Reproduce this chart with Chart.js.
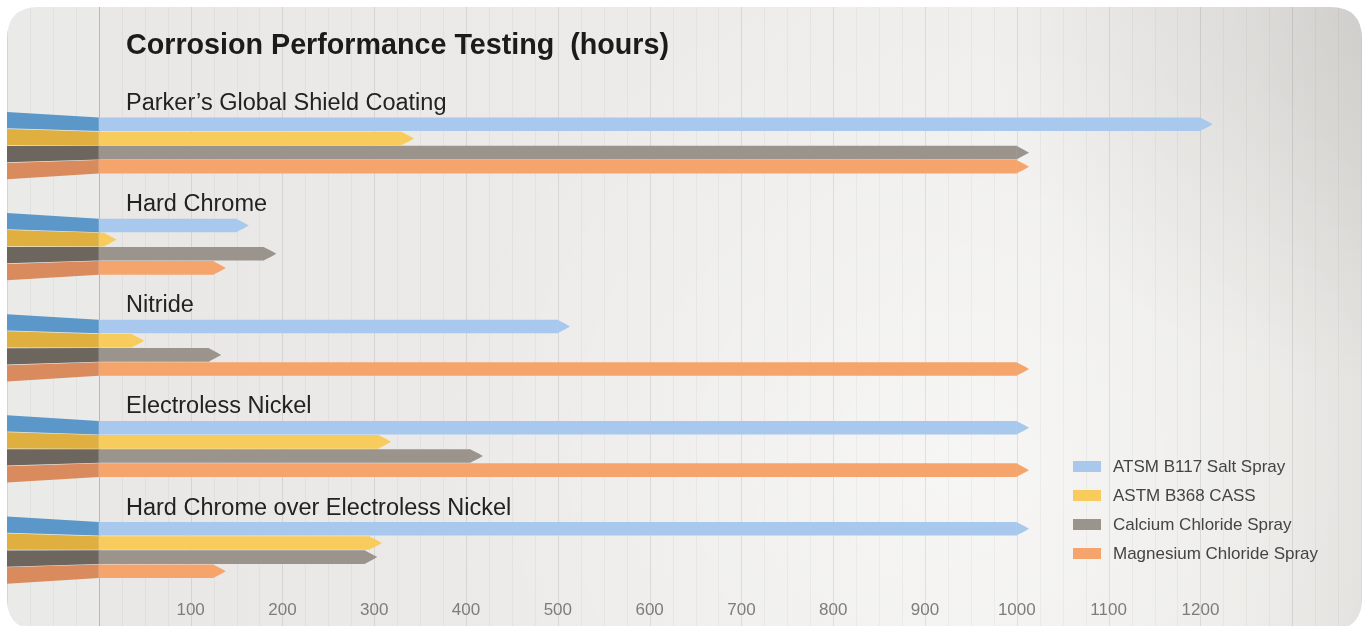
<!DOCTYPE html>
<html><head><meta charset="utf-8">
<script src="https://cdn.jsdelivr.net/npm/chart.js@4.4.1/dist/chart.umd.min.js"></script>
<style>html,body{margin:0;padding:0;background:#fff;overflow:hidden}#wrap{width:1369px;height:626px;position:relative}</style>
</head><body><div id="wrap"><canvas id="c" width="1369" height="626"></canvas></div>
<script>
const titleText = "Corrosion Performance Testing  (hours)";
const categories = ["Parker\u2019s Global Shield Coating", "Hard Chrome", "Nitride", "Electroless Nickel", "Hard Chrome over Electroless Nickel"];
const seriesNames = ["ATSM B117 Salt Spray", "ASTM B368 CASS", "Calcium Chloride Spray", "Magnesium Chloride Spray"];
const saltSpray = [1200, 150, 500, 1000, 1000];
const cass = [330, 6, 36, 305, 295];
const calciumChloride = [1000, 180, 120, 405, 290];
const magnesiumChloride = [1000, 125, 1000, 1000, 125];
const tickLabels = [100, 200, 300, 400, 500, 600, 700, 800, 900, 1000, 1100, 1200];

const seriesData = [saltSpray, cass, calciumChloride, magnesiumChloride];
const lightColors = ['#a8c8ee', '#f8cc5c', '#9b948c', '#f5a56b'];
const darkColors = ['#5b97c8', '#dfb03f', '#6c665f', '#d98b5d'];

const FONT = '"Liberation Sans", Arial, Helvetica, sans-serif';

function roundRectPath(ctx, x, y, w, h, r) {
  ctx.beginPath();
  ctx.moveTo(x + r, y);
  ctx.lineTo(x + w - r, y);
  ctx.quadraticCurveTo(x + w, y, x + w, y + r);
  ctx.lineTo(x + w, y + h - r);
  ctx.quadraticCurveTo(x + w, y + h, x + w - r, y + h);
  ctx.lineTo(x + r, y + h);
  ctx.quadraticCurveTo(x, y + h, x, y + h - r);
  ctx.lineTo(x, y + r);
  ctx.quadraticCurveTo(x, y, x + r, y);
  ctx.closePath();
}

const deco = {
  id: 'deco',
  beforeDraw(chart) {
    const ctx = chart.ctx, xs = chart.scales.x;
    const L = 7, T = 7, R = 1362, B = 630;
    ctx.save();
    ctx.fillStyle = '#ffffff';
    ctx.fillRect(0, 0, chart.width, chart.height);
    roundRectPath(ctx, L, T, R - L, B - T, 32);
    const g = ctx.createLinearGradient(L, 0, R, 0);
    g.addColorStop(0, '#e8e7e5');
    g.addColorStop(0.45, '#ecebe9');
    g.addColorStop(0.75, '#efeeec');
    g.addColorStop(0.92, '#eae9e6');
    g.addColorStop(1, '#e2e0dc');
    ctx.fillStyle = g;
    ctx.fill();
    ctx.clip();
    const rg = ctx.createRadialGradient(950, 470, 20, 950, 470, 520);
    rg.addColorStop(0, 'rgba(255,255,255,0.45)');
    rg.addColorStop(1, 'rgba(255,255,255,0)');
    ctx.fillStyle = rg;
    ctx.fillRect(L, T, R - L, B - T);
    const cg = ctx.createRadialGradient(R, T, 10, R, T, 380);
    cg.addColorStop(0, 'rgba(0,0,0,0.08)');
    cg.addColorStop(1, 'rgba(0,0,0,0)');
    ctx.fillStyle = cg;
    ctx.fillRect(L, T, R - L, B - T);
    const x0 = xs.getPixelForValue(0);
    ctx.fillStyle = 'rgba(255,255,255,0.12)';
    ctx.fillRect(L, T, x0 - L, B - T);
    for (let v = -100; v <= 1375; v += 25) {
      const px = Math.round(xs.getPixelForValue(v)) + 0.5;
      if (px < L || px > R) continue;
      const major = v % 100 === 0;
      ctx.strokeStyle = v === 0 ? 'rgba(0,0,0,0.20)' : (major ? 'rgba(0,0,0,0.085)' : 'rgba(0,0,0,0.035)');
      ctx.lineWidth = 1;
      ctx.beginPath();
      ctx.moveTo(px, T);
      ctx.lineTo(px, B);
      ctx.stroke();
    }
    ctx.restore();
  },
  afterDatasetsDraw(chart) {
    const ctx = chart.ctx, xs = chart.scales.x, ys = chart.scales.y;
    const left = chart.chartArea.left;
    const x0 = xs.getPixelForValue(0);
    ctx.save();
    chart.data.datasets.forEach((ds, di) => {
      const meta = chart.getDatasetMeta(di);
      meta.data.forEach((el, i) => {
        const p = el.getProps(['x', 'y', 'height'], true);
        const top = p.y - p.height / 2, bot = p.y + p.height / 2;
        const c = ys.getPixelForValue(i);
        const k = 1.2;
        ctx.fillStyle = darkColors[di];
        ctx.beginPath();
        ctx.moveTo(left, c + (top - c) * k);
        ctx.lineTo(x0, top);
        ctx.lineTo(x0, bot);
        ctx.lineTo(left, c + (bot - c) * k);
        ctx.closePath();
        ctx.fill();
        ctx.fillStyle = lightColors[di];
        ctx.beginPath();
        ctx.moveTo(p.x - 0.5, top);
        ctx.lineTo(p.x + p.height * 0.55, top + p.height * 0.3);
        ctx.lineTo(p.x + p.height * 0.9, p.y);
        ctx.lineTo(p.x + p.height * 0.55, bot - p.height * 0.3);
        ctx.lineTo(p.x - 0.5, bot);
        ctx.closePath();
        ctx.fill();
      });
    });
    ctx.restore();
  },
  afterDraw(chart) {
    const ctx = chart.ctx, ys = chart.scales.y;
    ctx.save();
    ctx.textBaseline = 'middle';
    ctx.textAlign = 'left';
    ctx.fillStyle = '#1b1b1b';
    ctx.font = 'bold 28.7px ' + FONT;
    ctx.fillText(titleText, 126, 46);
    ctx.fillStyle = '#222222';
    ctx.font = '23.5px ' + FONT;
    categories.forEach((lab, i) => {
      ctx.fillText(lab, 126, ys.getPixelForValue(i) - 42);
    });
    ctx.font = '17px ' + FONT;
    chart.data.datasets.forEach((ds, di) => {
      const y = 466 + di * 29;
      ctx.fillStyle = ds.backgroundColor;
      ctx.fillRect(1073, y - 5, 28, 11);
      ctx.fillStyle = '#444444';
      ctx.fillText(ds.label, 1113, y + 1);
    });
    ctx.restore();
  }
};

new Chart(document.getElementById('c'), {
  type: 'bar',
  data: {
    labels: categories,
    datasets: seriesNames.map((n, i) => ({
      label: n,
      data: seriesData[i],
      backgroundColor: lightColors[i],
      borderWidth: 0,
      barPercentage: 0.96,
      categoryPercentage: 0.56
    }))
  },
  options: {
    indexAxis: 'y',
    responsive: false,
    animation: false,
    devicePixelRatio: 1,
    layout: { padding: { left: 7, right: 7, top: 95, bottom: 5 } },
    plugins: { legend: { display: false }, tooltip: { enabled: false }, title: { display: false } },
    scales: {
      x: {
        min: -100, max: 1376,
        grid: { display: false, drawTicks: false },
        border: { display: false },
        afterBuildTicks: s => { s.ticks = tickLabels.map(v => ({ value: v })); },
        ticks: { autoSkip: false, maxRotation: 0, padding: 0, color: '#7d7d7d', font: { family: FONT, size: 17 }, callback: v => String(v) }
      },
      y: { display: false }
    }
  },
  plugins: [deco]
});
</script>
</body></html>
